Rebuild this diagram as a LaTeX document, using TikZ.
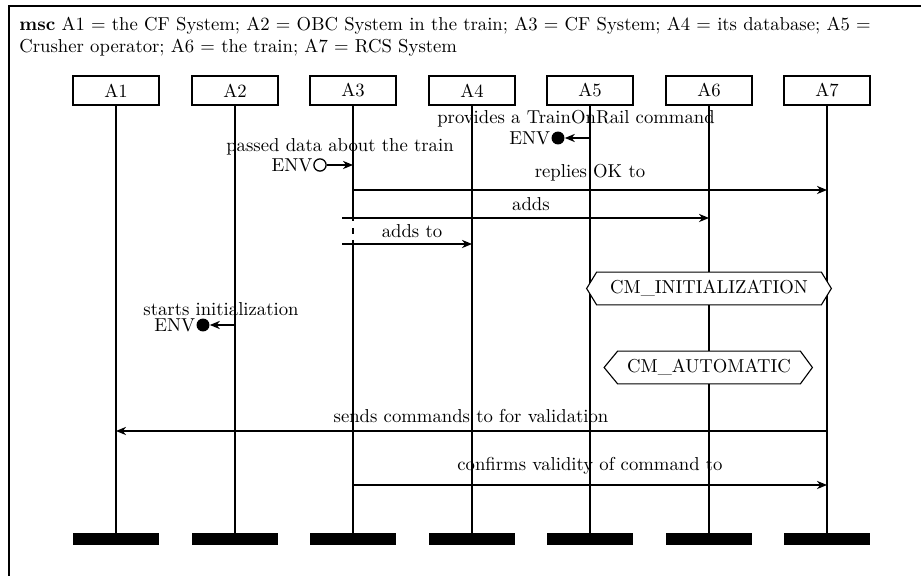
\documentclass[tikz,border=0pt]{standalone}
\usetikzlibrary{arrows.meta,calc}
\begin{document}
\begin{tikzpicture}[x=0.54pt,y=-0.54pt,
  head/.style={draw, line width=0.6pt, minimum width=46.4pt, minimum height=15.7pt, inner sep=0pt},
  endbar/.style={fill=black, minimum width=46.4pt, minimum height=6.5pt, inner sep=0pt},
  life/.style={line width=0.6pt},
  msg/.style={line width=0.8pt, -{Stealth[length=5.4pt,width=4.4pt,inset=1.7pt]}},
  envopen/.style={circle, draw, line width=0.7pt, minimum size=6.6pt, inner sep=0pt, fill=white},
  envfull/.style={circle, fill=black, minimum size=7pt, inner sep=0pt},
  cond/.style={draw, line width=0.6pt, fill=white},
  lbl/.style={inner sep=0pt, font=\fontsize{10.1}{12}\selectfont}
  ]
\useasboundingbox (0,0) rectangle (921,576);
% frame
\coordinate (fa) at (9,576);
\coordinate (fb) at (9,6);
\coordinate (fc) at (921,6);
\draw[line width=0.9pt] (fa) -- (fb) -- (fc);
% title
\node[anchor=north west, align=left, inner sep=0pt, font=\fontsize{10.1}{11.6}\selectfont] (title) at (19,17)
  {\textbf{msc} A1 = the CF System; A2 = OBC System in the train; A3 = CF System; A4 = its database; A5 =\\
   Crusher operator; A6 = the train; A7 = RCS System};
% instances
\foreach \i/\x in {1/116,2/235,3/353,4/472,5/590,6/709,7/827}{
  \node[head, font=\fontsize{10.1}{12}\selectfont] (h\i) at (\x,90.5) {A\i};
  \node[endbar] (e\i) at (\x,539) {};
}
\foreach \i in {1,2,4,5,6,7}{
  \draw[life] (h\i.south) -- (e\i.north);
}
% A3 lifeline with gap
\coordinate (g1) at (353,221);
\coordinate (g2) at (353,228);
\coordinate (g3) at (353,234);
\coordinate (g4) at (353,240);
\draw[life] (h3.south) -- (g1);
\draw[life] (g2) -- (g3);
\draw[life] (g4) -- (e3.north);

% provides a TrainOnRail command
\node[envfull] (env1) at (558,138) {};
\node[anchor=east, lbl] (env1l) at ([xshift=-0.3pt]env1.west) {ENV};
\coordinate (s1) at (590,138);
\draw[msg] (s1) -- (env1);
\node[lbl] (l1) at (576,119) {provides a TrainOnRail command};

% passed data about the train
\node[envopen] (env2) at (320,165) {};
\node[anchor=east, lbl] (env2l) at ([xshift=-0.3pt]env2.west) {ENV};
\coordinate (s2) at (353,165);
\draw[msg] (env2) -- (s2);
\node[lbl] (l2) at (340,147) {passed data about the train};

% replies OK to
\coordinate (a1) at (353,190);
\coordinate (b1) at (827,190);
\draw[msg] (a1) -- (b1);
\node[lbl] (l3) at (590,173) {replies OK to};

% adds
\coordinate (a2) at (342,218);
\coordinate (b2) at (709,218);
\draw[msg] (a2) -- (b2);
\node[lbl] (l4) at (531,204) {adds};

% adds to
\coordinate (a3) at (342,244);
\coordinate (b3) at (472,244);
\draw[msg] (a3) -- (b3);
\node[lbl] (l5) at (412,231) {adds to};

% CM_INITIALIZATION
\node[minimum width=224*0.54pt, minimum height=32*0.54pt, inner sep=0pt] (c1) at (709,288.5) {};
\draw[cond] ([xshift=-5.4pt]c1.west) -- (c1.north west) -- (c1.north east) -- ([xshift=5.4pt]c1.east) -- (c1.south east) -- (c1.south west) -- cycle;
\node[lbl] (c1t) at (c1) {CM\_INITIALIZATION};

% starts initialization
\node[envfull] (env3) at (203,325) {};
\node[anchor=east, lbl] (env3l) at ([xshift=-0.3pt]env3.west) {ENV};
\coordinate (s3) at (235,325);
\draw[msg] (s3) -- (env3);
\node[lbl] (l6) at (221,309) {starts initialization};

% CM_AUTOMATIC
\node[minimum width=182*0.54pt, minimum height=32*0.54pt, inner sep=0pt] (c2) at (709,367.5) {};
\draw[cond] ([xshift=-7.3pt]c2.west) -- (c2.north west) -- (c2.north east) -- ([xshift=6.5pt]c2.east) -- (c2.south east) -- (c2.south west) -- cycle;
\node[lbl] (c2t) at (c2) {CM\_AUTOMATIC};

% sends commands to for validation
\coordinate (a4) at (827,431);
\coordinate (b4) at (116,431);
\draw[msg] (a4) -- (b4);
\node[lbl] (l7) at (471,416) {sends commands to for validation};

% confirms validity of command to
\coordinate (a5) at (353,485);
\coordinate (b5) at (827,485);
\draw[msg] (a5) -- (b5);
\node[lbl] (l8) at (590,466) {confirms validity of command to};
\end{tikzpicture}
\end{document}
